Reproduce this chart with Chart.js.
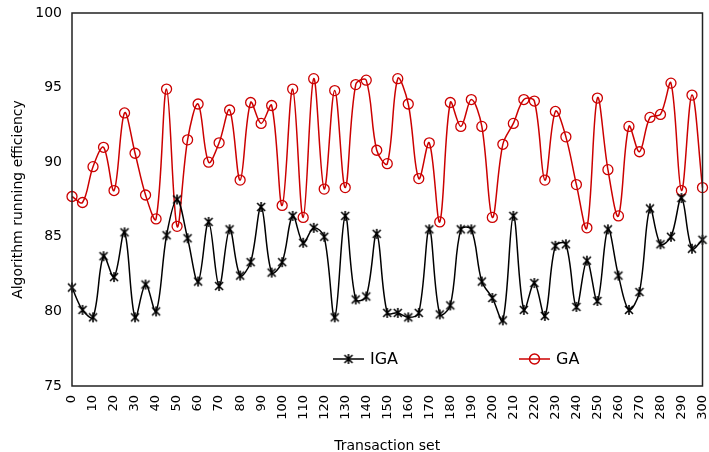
<!DOCTYPE html>
<html>
<head>
<meta charset="utf-8">
<script src="https://cdn.jsdelivr.net/npm/chart.js@4.4.1/dist/chart.umd.min.js"></script>
<style>
  html, body { margin: 0; padding: 0; background: #fff; }
  #wrap { width: 709px; height: 452px; }
</style>
</head>
<body>
<div id="wrap"><canvas id="chart" width="709" height="452"></canvas></div>
<script>
// Transaction set values (x axis)
const transactionSets = [0, 5, 10, 15, 20, 25, 30, 35, 40, 45, 50, 55, 60, 65, 70, 75, 80, 85, 90, 95,
    100, 105, 110, 115, 120, 125, 130, 135, 140, 145, 150, 155, 160, 165, 170, 175, 180, 185, 190, 195,
    200, 205, 210, 215, 220, 225, 230, 235, 240, 245, 250, 255, 260, 265, 270, 275, 280, 285, 290, 295, 300];

const igaValues = [81.6, 80.1, 79.6, 83.7, 82.3, 85.3, 79.6, 81.8, 80.0, 85.1, 87.5, 84.9, 82.0, 86.0, 81.7, 85.5,
    82.4, 83.3, 87.0, 82.6, 83.3, 86.4, 84.6, 85.6, 85.0, 79.6, 86.4, 80.8, 81.0, 85.2, 79.9,
    79.9, 79.6, 79.9, 85.5, 79.8, 80.4, 85.5, 85.5, 82.0, 80.9, 79.4, 86.4, 80.1, 81.9, 79.7,
    84.4, 84.5, 80.3, 83.4, 80.7, 85.5, 82.4, 80.1, 81.3, 86.9, 84.5, 85.0, 87.6, 84.2, 84.8];

const gaValues = [87.7, 87.3, 89.7, 91.0, 88.1, 93.3, 90.6, 87.8, 86.2, 94.9, 85.7, 91.5, 93.9, 90.0, 91.3, 93.5,
    88.8, 94.0, 92.6, 93.8, 87.1, 94.9, 86.3, 95.6, 88.2, 94.8, 88.3, 95.2, 95.5, 90.8, 89.9,
    95.6, 93.9, 88.9, 91.3, 86.0, 94.0, 92.4, 94.2, 92.4, 86.3, 91.2, 92.6, 94.2, 94.1, 88.8,
    93.4, 91.7, 88.5, 85.6, 94.3, 89.5, 86.4, 92.4, 90.7, 93.0, 93.2, 95.3, 88.1, 94.5, 88.3];

const seriesNames = ['IGA', 'GA'];
const yTicks = [75, 80, 85, 90, 95, 100];

const RED = '#cc0000';

// asterisk marker (X with a vertical bar), like the original
function makeAsterisk(r) {
    const c = document.createElement('canvas');
    const s = r * 2 + 4;
    c.width = s; c.height = s;
    const g = c.getContext('2d');
    const m = s / 2;
    g.strokeStyle = '#000';
    g.lineWidth = 1.6;
    g.beginPath();
    g.moveTo(m, m - r); g.lineTo(m, m + r);
    const d = r * 0.8;
    g.moveTo(m - d, m - d); g.lineTo(m + d, m + d);
    g.moveTo(m - d, m + d); g.lineTo(m + d, m - d);
    g.stroke();
    return c;
}
const starImg = makeAsterisk(5);

function toPoints(vals) {
    return transactionSets.map((x, i) => ({ x: x, y: vals[i] }));
}

// box around the plot area + legend inside it
const framePlugin = {
    id: 'frame',
    afterDraw(chart) {
        const ctx = chart.ctx;
        const a = chart.chartArea;
        ctx.save();
        ctx.strokeStyle = '#222';
        ctx.lineWidth = 1.5;
        ctx.strokeRect(a.left, a.top, a.right - a.left, a.bottom - a.top);

        // legend
        const ly = 359;
        const items = [
            { x: 333, label: seriesNames[0], color: '#000', star: true },
            { x: 519, label: seriesNames[1], color: RED, star: false }
        ];
        ctx.font = '16px "DejaVu Sans"';
        ctx.textBaseline = 'middle';
        items.forEach((it) => {
            ctx.strokeStyle = it.color;
            ctx.lineWidth = 1.5;
            ctx.beginPath();
            ctx.moveTo(it.x, ly);
            ctx.lineTo(it.x + 31, ly);
            ctx.stroke();
            if (it.star) {
                ctx.drawImage(starImg, it.x + 15.5 - starImg.width / 2, ly - starImg.height / 2);
            } else {
                ctx.beginPath();
                ctx.arc(it.x + 15.5, ly, 5, 0, Math.PI * 2);
                ctx.stroke();
            }
            ctx.fillStyle = '#000';
            ctx.fillText(it.label, it.x + 37, ly + 1);
        });
        ctx.restore();
    }
};

const ctx = document.getElementById('chart').getContext('2d');
new Chart(ctx, {
    type: 'line',
    data: {
        datasets: [{
            label: seriesNames[0],
            data: toPoints(igaValues),
            borderColor: '#000',
            borderWidth: 1.5,
            pointStyle: starImg,
            pointRadius: 5,
            tension: 0.35,
            clip: false
        }, {
            label: seriesNames[1],
            data: toPoints(gaValues),
            borderColor: RED,
            backgroundColor: 'rgba(0,0,0,0)',
            borderWidth: 1.5,
            pointStyle: 'circle',
            pointRadius: 5,
            pointBorderWidth: 1.3,
            pointBorderColor: RED,
            pointBackgroundColor: 'rgba(0,0,0,0)',
            tension: 0.35,
            clip: false
        }]
    },
    options: {
        responsive: false,
        animation: false,
        layout: { padding: { top: 13, right: 4, left: 0, bottom: 0 } },
        plugins: {
            legend: { display: false },
            tooltip: { enabled: false }
        },
        scales: {
            x: {
                type: 'linear',
                min: 0,
                max: 300,
                afterFit(scale) {
                    scale.height = 66;
                    scale.paddingLeft = 0;
                    scale.paddingRight = 0;
                },
                grid: { display: false, drawTicks: false },
                border: { display: false },
                ticks: {
                    stepSize: 10,
                    minRotation: 90,
                    maxRotation: 90,
                    padding: 9,
                    color: '#000',
                    font: { family: 'DejaVu Sans', size: 13 }
                },
                title: {
                    display: true,
                    text: 'Transaction set',
                    color: '#000',
                    padding: { top: 0, bottom: -3 },
                    font: { family: 'DejaVu Sans', size: 14 }
                }
            },
            y: {
                min: yTicks[0],
                max: yTicks[yTicks.length - 1],
                afterFit(scale) {
                    scale.width = 72;
                    scale.paddingTop = 0;
                    scale.paddingBottom = 0;
                },
                afterBuildTicks(scale) { scale.ticks = yTicks.map((v) => ({ value: v })); },
                grid: { display: false, drawTicks: false },
                border: { display: false },
                ticks: {
                    padding: 10,
                    color: '#000',
                    font: { family: 'DejaVu Sans', size: 14 }
                },
                title: {
                    display: true,
                    text: 'Algorithm running efficiency',
                    color: '#000',
                    padding: { top: 10, bottom: 0 },
                    font: { family: 'DejaVu Sans', size: 14 }
                }
            }
        }
    },
    plugins: [framePlugin]
});
</script>
</body>
</html>
